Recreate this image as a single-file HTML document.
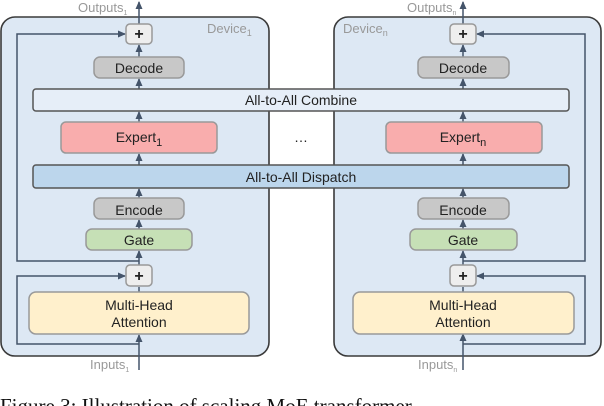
<!DOCTYPE html>
<html><head><style>
html,body{margin:0;padding:0;background:#fff;width:604px;height:406px;overflow:hidden}
</style></head><body>
<svg width="604" height="406" viewBox="0 0 604 406" xmlns="http://www.w3.org/2000/svg" style="font-family:'Liberation Sans',sans-serif">
<defs>
<marker id="a" markerWidth="8" markerHeight="8" refX="7" refY="4" orient="auto" markerUnits="userSpaceOnUse">
<path d="M0,0.5 L8,4 L0,7.5 Z" fill="#44546a"/></marker>
</defs>
<g stroke="#3a3a3a" stroke-width="1.6">
<rect x="1" y="17" width="268" height="339" rx="14" fill="#dde8f4"/>
<rect x="334" y="17" width="267" height="339" rx="14" fill="#dde8f4"/>
</g>
<g font-size="13" fill="#999">
<text x="207" y="33">Device<tspan font-size="9" dy="3">1</tspan></text>
<text x="343" y="33">Device<tspan font-size="9" dy="3">n</tspan></text>
<text x="78" y="12">Outputs<tspan font-size="7" dy="3">1</tspan></text>
<text x="407" y="12">Outputs<tspan font-size="7" dy="3">n</tspan></text>
<text x="90" y="369">Inputs<tspan font-size="7" dy="3">1</tspan></text>
<text x="418" y="369">Inputs<tspan font-size="7" dy="3">n</tspan></text>
</g>
<g fill="none" stroke="#44546a" stroke-width="1.5">
<path d="M139 24 L139 2" marker-end="url(#a)"/>
<path d="M139 57 L139 45" marker-end="url(#a)"/>
<path d="M139 89 L139 79" marker-end="url(#a)"/>
<path d="M139 122 L139 112" marker-end="url(#a)"/>
<path d="M139 165 L139 154" marker-end="url(#a)"/>
<path d="M139 198 L139 189" marker-end="url(#a)"/>
<path d="M139 229 L139 220" marker-end="url(#a)"/>
<path d="M139 265 L139 251" marker-end="url(#a)"/>
<path d="M139 292 L139 287"/>
<path d="M139 370 L139 335" marker-end="url(#a)"/>
<path d="M139 261 L17 261 L17 34 L125 34" marker-end="url(#a)"/>
<path d="M139 344 L17 344 L17 276 L125 276" marker-end="url(#a)"/>
<path d="M463 24 L463 2" marker-end="url(#a)"/>
<path d="M463 57 L463 45" marker-end="url(#a)"/>
<path d="M463 89 L463 79" marker-end="url(#a)"/>
<path d="M463 122 L463 112" marker-end="url(#a)"/>
<path d="M463 165 L463 154" marker-end="url(#a)"/>
<path d="M463 198 L463 189" marker-end="url(#a)"/>
<path d="M463 229 L463 220" marker-end="url(#a)"/>
<path d="M463 265 L463 251" marker-end="url(#a)"/>
<path d="M463 292 L463 287"/>
<path d="M463 370 L463 334" marker-end="url(#a)"/>
<path d="M463 261 L585 261 L585 34 L477 34" marker-end="url(#a)"/>
<path d="M463 344 L585 344 L585 276 L477 276" marker-end="url(#a)"/>
</g>
<g stroke-width="1.5">
<rect x="33" y="89" width="536" height="22" rx="3" fill="#e6eef8" stroke="#555"/>
<rect x="33" y="165" width="536" height="23" rx="3" fill="#bcd6ec" stroke="#555"/>
<g stroke="#999">
<rect x="126" y="24" width="26" height="20" rx="4" fill="#eee"/>
<rect x="126" y="265" width="26" height="21" rx="4" fill="#eee"/>
<rect x="94" y="57" width="90" height="21" rx="6" fill="#c8c8c8"/>
<rect x="61" y="122" width="156" height="31" rx="5" fill="#f9adad"/>
<rect x="94" y="198" width="90" height="21" rx="6" fill="#c8c8c8"/>
<rect x="86" y="229" width="106" height="21" rx="6" fill="#c6e0b6"/>
<rect x="29" y="292" width="220" height="42" rx="7" fill="#fff0cc"/>
<rect x="450" y="24" width="26" height="20" rx="4" fill="#eee"/>
<rect x="450" y="265" width="26" height="21" rx="4" fill="#eee"/>
<rect x="418" y="57" width="91" height="21" rx="6" fill="#c8c8c8"/>
<rect x="386" y="122" width="156" height="31" rx="5" fill="#f9adad"/>
<rect x="418" y="198" width="91" height="21" rx="6" fill="#c8c8c8"/>
<rect x="410" y="229" width="107" height="21" rx="6" fill="#c6e0b6"/>
<rect x="353" y="292" width="221" height="42" rx="7" fill="#fff0cc"/>
</g>
</g>
<g font-size="14" fill="#222" text-anchor="middle">
<text x="139" y="39" font-size="16" font-weight="bold">+</text>
<text x="139" y="281" font-size="16" font-weight="bold">+</text>
<text x="463" y="39" font-size="16" font-weight="bold">+</text>
<text x="463" y="281" font-size="16" font-weight="bold">+</text>
<text x="139" y="73">Decode</text>
<text x="463" y="73">Decode</text>
<text x="301" y="105">All-to-All Combine</text>
<text x="139" y="142">Expert<tspan font-size="11" dy="4">1</tspan></text>
<text x="463" y="142">Expert<tspan font-size="11" dy="4">n</tspan></text>
<text x="301" y="182">All-to-All Dispatch</text>
<text x="301" y="142">…</text>
<text x="139" y="215">Encode</text>
<text x="463" y="215">Encode</text>
<text x="139" y="245">Gate</text>
<text x="463" y="245">Gate</text>
<text x="139" y="310">Multi-Head</text>
<text x="139" y="327">Attention</text>
<text x="463" y="310">Multi-Head</text>
<text x="463" y="327">Attention</text>
</g>
<text x="0" y="413" style="font-family:'Liberation Serif',serif;font-size:21px" fill="#111">Figure 3: Illustration of scaling MoE transformer</text>
</svg>
</body></html>
